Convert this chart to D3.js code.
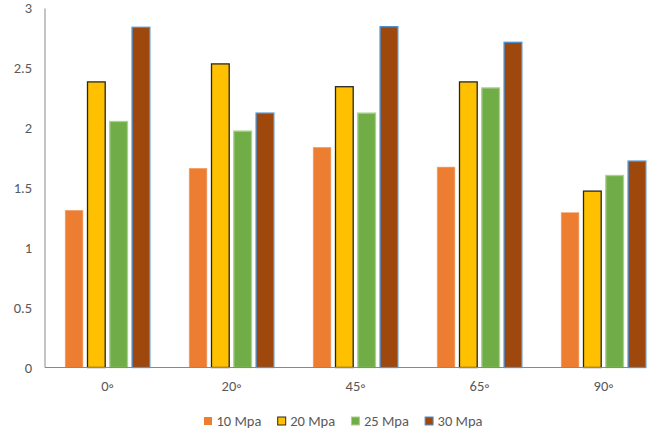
<!DOCTYPE html>
<html><head><meta charset="utf-8">
<script src="https://cdn.jsdelivr.net/npm/d3@7"></script>
<style>body{margin:0;background:#fff}svg{display:block}text{font-family:Calibri,Carlito,Lato,"Liberation Sans",Arial,sans-serif;fill:#595959}</style>
</head><body><svg id="c" width="654" height="436"></svg>
<script>
const categories = ["0\u25E6","20\u25E6","45\u25E6","65\u25E6","90\u25E6"];
const seriesNames = ["10 Mpa","20 Mpa","25 Mpa","30 Mpa"];
const s10 = [1.31,1.66,1.835,1.67,1.29];
const s20 = [2.38,2.53,2.34,2.38,1.47];
const s25 = [2.05,1.97,2.12,2.33,1.60];
const s30 = [2.835,2.12,2.84,2.71,1.72];
const yTicks = [0,0.5,1,1.5,2,2.5,3];
const fills = ["#ED7D31","#FFC000","#70AD47","#9E480E"];
const strokes = ["#F3A46F","#262626","#A9D18E","#4A90D0"];
const allSeries = [s10,s20,s25,s30];

const svg = d3.select("#c");
const x0 = d3.scaleBand().domain(categories).range([45.5,665.5]);
const x1 = d3.scaleBand().domain(seriesNames).range([0,x0.step()]).paddingInner(0.206).paddingOuter(0.883);
const y = d3.scaleLinear().domain([0,3]).range([367.5,7.5]);

svg.append("line").attr("x1",45).attr("x2",45).attr("y1",y(3)+1).attr("y2",y(0)).attr("stroke","#898989").attr("stroke-width",1);

const yAxis = d3.axisLeft(y).tickValues(yTicks).tickSize(0).tickPadding(13).tickFormat(d=>String(d));
const ga = svg.append("g").attr("transform","translate(45,0)").call(yAxis);
ga.select(".domain").remove();
ga.selectAll("text").style("font-size","14.5px").attr("fill","#595959");

const groups = svg.selectAll("g.grp").data(categories).join("g").attr("class","grp")
  .attr("transform",d=>`translate(${x0(d)},0)`);
allSeries.forEach((vals,si)=>{
  groups.append("rect")
    .attr("x",x1(seriesNames[si])).attr("width",x1.bandwidth())
    .attr("y",(d,i)=>y(vals[i])).attr("height",(d,i)=>y(0)-y(vals[i]))
    .attr("fill",fills[si]).attr("stroke",strokes[si]).attr("stroke-width",si===0?0.6:1.3);
});

svg.append("line").attr("x1",45).attr("x2",646).attr("y1",y(0)).attr("y2",y(0)).attr("stroke","#898989").attr("stroke-width",1.2);

const xAxis = d3.axisBottom(x0).tickSize(0).tickPadding(13);
const gx = svg.append("g").attr("transform",`translate(0,${y(0)})`).call(xAxis);
gx.select(".domain").remove();
gx.selectAll("text").style("font-size","14.5px").attr("fill","#595959");

const leg = svg.append("g").attr("transform","translate(204,417)");
seriesNames.forEach((n,i)=>{
  const g = leg.append("g").attr("transform",`translate(${i*73.7},0)`);
  g.append("rect").attr("width",8).attr("height",8).attr("fill",fills[i])
    .attr("stroke",i===0?"none":strokes[i]).attr("stroke-width",1);
  g.append("text").attr("x",12.5).attr("y",9).style("font-size","14.5px").text(n);
});
</script></body></html>
